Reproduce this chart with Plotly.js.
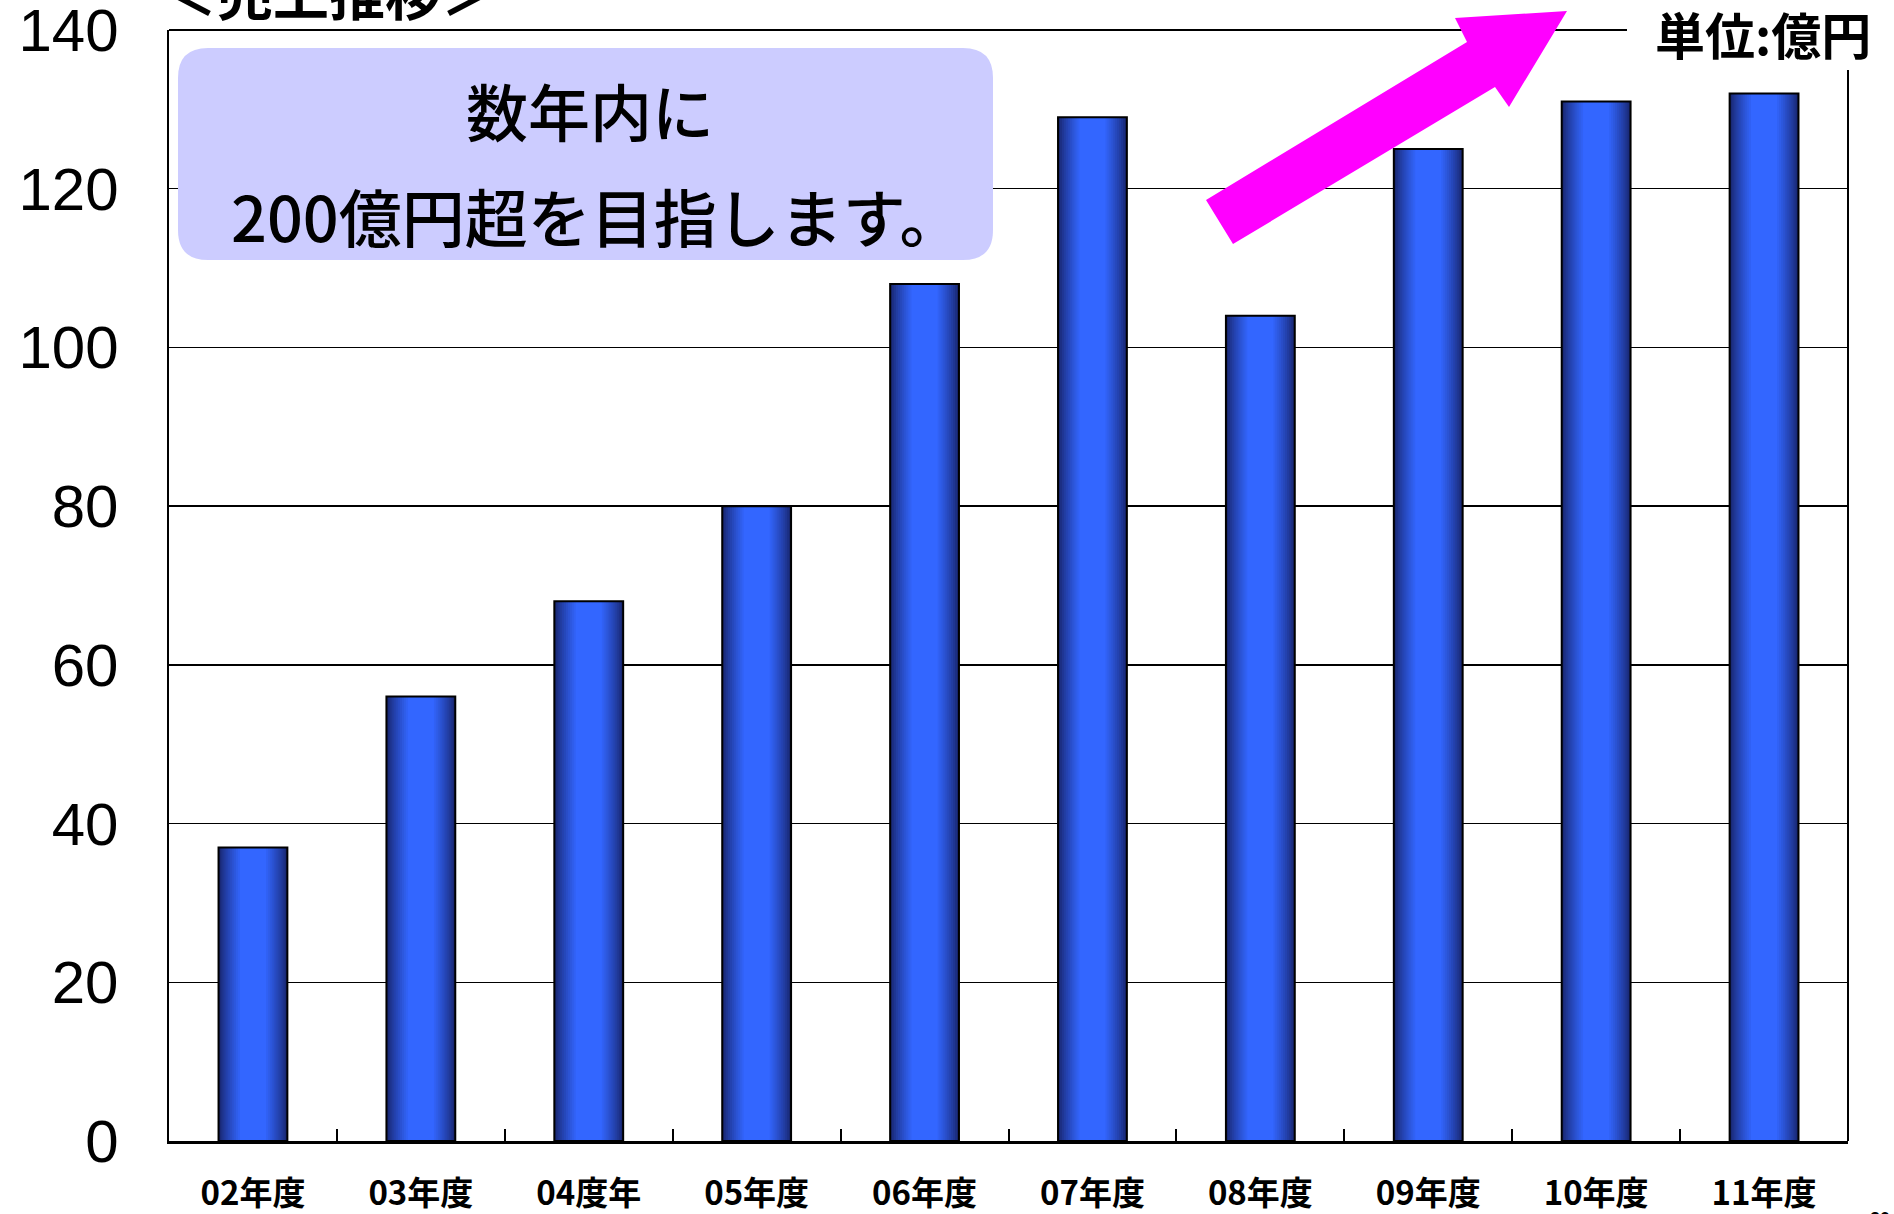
<!DOCTYPE html>
<html>
<head>
<meta charset="utf-8">
<script src="https://cdn.plot.ly/plotly-3.0.1.min.js"></script>
<style>html,body{margin:0;padding:0;background:#fff;}#chart{width:1894px;height:1214px;}</style>
</head>
<body>
<div id="chart"></div>
<script>
// ---- data ----
const categories = ['02年度','03年度','04度年','05年度','06年度','07年度','08年度','09年度','10年度','11年度'];
const sales = [37, 56, 68, 80, 108, 129, 104, 125, 131, 132];
const yTickVals = [0, 20, 40, 60, 80, 100, 120, 140];
const yTickText = ['0', '20', '40', '60', '80', '100', '120', '140'];
const unitLabel = '単位:億円';
const boxLine1 = '数年内に';
const boxLine2 = '200億円超を目指します。';
const pageTitle = '＜売上推移＞';
const pageNumber = '20';

// ---- geometry helpers (plot area in pixels) ----
const W = 1894, H = 1214;
const L = 169, T = 30, PW = 1679, PH = 1111;
const px = X => (X - L) / PW;
const py = Y => (T + PH - Y) / PH;

const BAR_W = 0.41;
const NL = 12;
const dark = [24, 38, 110], bright = [51, 102, 255];
const traces = [];
for (let i = 0; i < NL; i++) {
  const t = i / (NL - 1);
  const w = BAR_W * (1 - 0.62 * t);
  const c = dark.map((d, k) => Math.round(d + (bright[k] - d) * Math.pow(t, 0.8)));
  traces.push({
    type: 'bar', x: categories, y: sales, width: w,
    marker: {color: `rgb(${c[0]},${c[1]},${c[2]})`, line: {width: 0}},
    hoverinfo: 'skip', showlegend: false
  });
}
traces.push({
  type: 'bar', x: categories, y: sales, width: BAR_W,
  marker: {color: 'rgba(0,0,0,0)', line: {color: '#000', width: 2}},
  showlegend: false, hovertemplate: '%{x}: %{y}<extra></extra>'
});

function roundRect(x0, y0, x1, y1, r) {
  const P = (X, Y) => `${px(X)},${py(Y)}`;
  return `M ${P(x0 + r, y0)} L ${P(x1 - r, y0)} Q ${P(x1, y0)} ${P(x1, y0 + r)} ` +
         `L ${P(x1, y1 - r)} Q ${P(x1, y1)} ${P(x1 - r, y1)} L ${P(x0 + r, y1)} ` +
         `Q ${P(x0, y1)} ${P(x0, y1 - r)} L ${P(x0, y0 + r)} Q ${P(x0, y0)} ${P(x0 + r, y0)} Z`;
}
const arrowPts = [[1206,200],[1467,42],[1455,18],[1567,11],[1509,107],[1495,87],[1233,244]];
const arrowPath = 'M ' + arrowPts.map(p => `${px(p[0])},${py(p[1])}`).join(' L ') + ' Z';

const numFont = "'Liberation Sans', Arial, sans-serif";
const jpFont = "'Noto Sans CJK JP', sans-serif";

const layout = {
  width: W, height: H,
  margin: {l: L, r: W - L - PW, t: T, b: H - T - PH, pad: 0},
  paper_bgcolor: '#fff', plot_bgcolor: '#fff',
  barmode: 'overlay',
  showlegend: false,
  xaxis: {
    type: 'category',
    showline: true, linecolor: '#000', linewidth: 2.5,
    ticks: 'inside', tickson: 'boundaries', ticklen: 12, tickwidth: 2, tickcolor: '#000',
    showgrid: false, zeroline: false,
    tickfont: {family: jpFont, size: 33, color: '#000', weight: 700},
    ticklabelstandoff: 22
  },
  yaxis: {
    range: [0, 140], tickvals: yTickVals, ticktext: yTickText,
    showline: true, linecolor: '#000', linewidth: 2.5,
    ticks: '', showgrid: true, gridcolor: '#000', gridwidth: 1.5, zeroline: false,
    tickfont: {family: numFont, size: 60, color: '#000'},
    ticklabelstandoff: 36, ticklabeloverflow: 'allow'
  },
  shapes: [
    {type: 'line', xref: 'paper', yref: 'paper', x0: 0, x1: px(1627), y0: 1, y1: 1, line: {color: '#000', width: 2}, layer: 'above'},
    {type: 'line', xref: 'paper', yref: 'paper', x0: 1, x1: 1, y0: 0, y1: py(70), line: {color: '#000', width: 2}, layer: 'above'},
    {type: 'rect', xref: 'paper', yref: 'paper', x0: px(1627), x1: px(1894), y0: py(70), y1: py(0), fillcolor: '#fff', line: {width: 0}, layer: 'above'},
    {type: 'path', xref: 'paper', yref: 'paper', path: roundRect(178, 48, 993, 260, 30), fillcolor: '#ccccff', line: {width: 0}, layer: 'above'},
    {type: 'path', xref: 'paper', yref: 'paper', path: arrowPath, fillcolor: '#ff00ff', line: {width: 0}, layer: 'above'}
  ],
  annotations: [
    {xref: 'paper', yref: 'paper', x: px(1763), y: py(33), xanchor: 'center', yanchor: 'middle', showarrow: false,
     text: unitLabel, font: {family: jpFont, size: 50, color: '#000', weight: 700}},
    {xref: 'paper', yref: 'paper', x: px(590), y: py(110), xanchor: 'center', yanchor: 'middle', showarrow: false,
     text: boxLine1, font: {family: jpFont, size: 62, color: '#000', weight: 500}},
    {xref: 'paper', yref: 'paper', x: px(596), y: py(215), xanchor: 'center', yanchor: 'middle', showarrow: false,
     text: boxLine2, font: {family: jpFont, size: 63, color: '#000', weight: 500}},
    {xref: 'paper', yref: 'paper', x: px(329), y: py(33), xanchor: 'center', yanchor: 'bottom', showarrow: false,
     text: pageTitle, font: {family: jpFont, size: 56, color: '#000', weight: 700}},
    {xref: 'paper', yref: 'paper', x: px(1880), y: py(1207), xanchor: 'center', yanchor: 'top', showarrow: false,
     text: pageNumber, font: {family: numFont, size: 18, color: '#000', weight: 700}}
  ]
};

Plotly.newPlot('chart', traces, layout, {displayModeBar: false, staticPlot: true});
</script>
</body>
</html>
